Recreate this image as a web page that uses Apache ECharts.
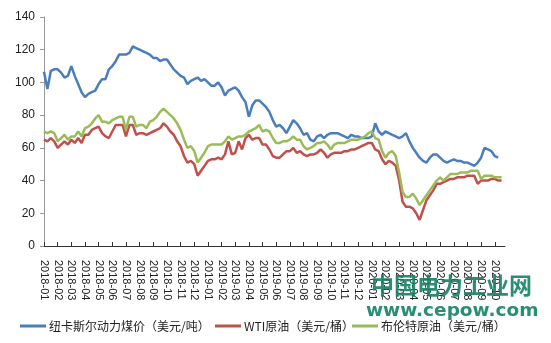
<!DOCTYPE html>
<html>
<head>
<meta charset="utf-8">
<script src="https://cdn.jsdelivr.net/npm/echarts@6/dist/echarts.min.js"></script>
<style>
  html, body { margin: 0; padding: 0; background: #fff; }
  #chart { width: 551px; height: 343px; }
</style>
</head>
<body>
<div id="chart"></div>
<script>
// monthly tick labels, 4 weekly points per month
var months = ['2018-01','2018-02','2018-03','2018-04','2018-05','2018-06','2018-07','2018-08','2018-09','2018-10','2018-11','2018-12',
  '2019-01','2019-02','2019-03','2019-04','2019-05','2019-06','2019-07','2019-08','2019-09','2019-10','2019-11','2019-12',
  '2020-01','2020-02','2020-03','2020-04','2020-05','2020-06','2020-07','2020-08','2020-09','2020-10'];

var newcastle = [106.5, 96, 107, 108, 108, 106, 103, 104, 110, 104,
  99, 94, 91, 93, 94, 95, 99, 102, 102, 108,
  110, 113, 117, 117, 117, 118, 122, 121, 120, 119,
  118, 117, 115, 115, 113, 114, 114, 111, 108, 106,
  104, 103, 99, 101, 102, 103, 101, 102, 100, 98,
  98, 100, 97, 92, 95, 96, 97, 95, 91, 88,
  79, 86, 89, 89, 87, 85, 82, 77, 73, 74,
  72, 69, 73, 77, 75, 72, 68, 69, 65, 64,
  67, 68, 66, 68, 69, 69, 69, 68, 67, 66,
  68, 67, 67, 66, 66, 66, 67, 75, 70, 68,
  70, 69, 68, 67, 66, 67, 69, 64, 60, 57,
  54, 52, 51, 54, 56, 56, 54, 52, 51, 52,
  53, 52, 52, 51, 51, 50, 49, 51, 54, 60,
  59, 58, 55, 54];

var wti = [65, 64, 66, 64, 60, 62, 64, 62, 65, 63,
  66, 63, 68, 68, 71, 72, 73, 69, 67, 66,
  70, 74, 74, 74, 67, 74, 74, 68, 69, 69,
  68, 69, 70, 71, 72, 75, 73, 70, 68, 64,
  61, 55, 51, 52, 50, 43, 46, 49, 52, 53,
  53, 54, 53, 56, 64, 56, 57, 64, 59, 66,
  68, 65, 66, 66, 62, 62, 59, 55, 54, 54,
  56, 58, 58, 60, 57, 58, 56, 55, 56, 56,
  57, 59, 57, 54, 56, 57, 57, 57, 58, 58,
  59, 59, 60, 61, 62, 63, 63, 59, 58, 53,
  50, 52, 51, 49, 40, 27, 24, 24, 23, 20,
  16, 22, 28, 31, 34, 38, 38, 39, 40, 41,
  41, 42, 42, 42, 43, 43, 43, 38, 40, 40,
  40, 41, 41, 40, 40];

var brent = [70, 69, 70, 69, 64, 66, 68, 65, 67, 67,
  70, 67, 72, 73, 75, 78, 80, 76, 76, 75,
  77, 78, 79, 79, 71, 79, 79, 73, 74, 74,
  72, 76, 77, 79, 82, 84, 82, 80, 78, 75,
  71, 65, 60, 61, 58, 51, 54, 57, 61, 62,
  62, 62, 62, 64, 67, 65, 66, 67, 67, 68,
  70, 71, 72, 74, 70, 71, 70, 66, 63, 63,
  64, 64, 65, 67, 65, 65, 61, 59, 60, 61,
  63, 63, 64, 62, 59, 62, 63, 63, 63, 64,
  65, 65, 65, 66, 67, 69, 70, 66, 65, 58,
  54, 57, 58, 55, 45, 33, 30, 30, 32, 29,
  25, 28, 31, 34, 37, 40, 42, 40, 42, 44,
  44, 44, 45, 45, 45, 46, 46, 46, 41, 43,
  43, 43, 42, 42, 42];

var seriesNames = ['纽卡斯尔动力煤价（美元/吨）', 'WTI原油（美元/桶）', '布伦特原油（美元/桶）'];
var seriesColors = ['#4a7ebb', '#c0504d', '#9bbb59'];
var legendLeft = [15, 210, 347];

var categories = [];
months.forEach(function (m) {
  categories.push(m, '', '', '');
});
categories.length = 136;
for (var k = 0; k < categories.length; k++) {
  if (categories[k] === undefined) categories[k] = '';
}

var legends = seriesNames.map(function (name, i) {
  return {
    left: legendLeft[i],
    top: 315,
    icon: 'rect',
    itemWidth: 26,
    itemHeight: 3,
    itemGap: 4,
    textStyle: { fontFamily: 'Noto Sans CJK SC', fontSize: 12, color: '#222', padding: [0, 0, 0, -2] },
    data: [name]
  };
});

var chart = echarts.init(document.getElementById('chart'));
chart.setOption({
  animation: false,
  grid: { left: 44, right: 46, top: 17, bottom: 97 },
  legend: legends,
  xAxis: {
    type: 'category',
    boundaryGap: false,
    data: categories,
    axisLine: { lineStyle: { color: '#333', width: 1 } },
    axisTick: {
      inside: true,
      length: 4,
      interval: function (i) { return i % 4 === 0; },
      lineStyle: { color: '#333' }
    },
    axisLabel: {
      rotate: -90,
      interval: function (i) { return i % 4 === 0; },
      margin: 14,
      fontFamily: 'Liberation Sans',
      fontSize: 11,
      color: '#222'
    },
    splitLine: { show: false }
  },
  yAxis: {
    type: 'value',
    min: 0,
    max: 140,
    interval: 20,
    axisLine: { show: true, lineStyle: { color: '#999' } },
    axisTick: { show: true, length: 4, lineStyle: { color: '#999' } },
    axisLabel: { fontFamily: 'Liberation Sans', fontSize: 12, color: '#222', margin: 9 },
    splitLine: { show: false }
  },
  series: [
    { name: seriesNames[0], type: 'line', data: newcastle, symbol: 'none', showSymbol: false, color: seriesColors[0], lineStyle: { width: 2.5 } },
    { name: seriesNames[1], type: 'line', data: wti, symbol: 'none', showSymbol: false, color: seriesColors[1], lineStyle: { width: 2.5 } },
    { name: seriesNames[2], type: 'line', data: brent, symbol: 'none', showSymbol: false, color: seriesColors[2], lineStyle: { width: 2.5 } }
  ],
  graphic: [
    {
      type: 'text', left: 371, top: 274, z: 100,
      style: { text: '中国电力工业网', fill: 'rgba(20,130,100,0.9)', font: 'bold 23px "Noto Sans CJK SC"' }
    },
    {
      type: 'text', left: 366, top: 302, z: 100,
      style: { text: 'www.cepow.com', fill: 'rgba(20,130,100,0.9)', font: 'bold 18.5px "DejaVu Sans"' }
    }
  ]
});
</script>
</body>
</html>
